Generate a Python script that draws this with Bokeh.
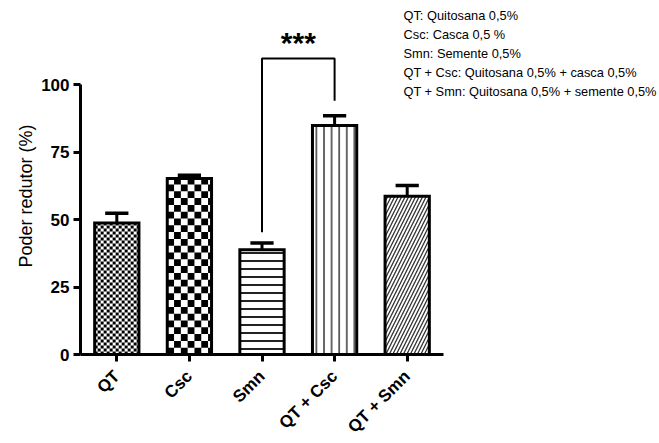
import math
import numpy as np
from bokeh.plotting import figure
from bokeh.models import FixedTicker, Label, ColumnDataSource, Title
from bokeh.core.properties import value
from bokeh.embed import file_html
from bokeh.resources import INLINE

# ---- data ----
categories = ["QT", "Csc", "Smn", "QT + Csc", "QT + Smn"]
means = [48.7, 65.2, 38.8, 84.8, 58.6]
upper = [52.3, 66.4, 41.3, 88.4, 62.6]          # mean + SD
y_ticks = [0, 25, 50, 75, 100]
legend_lines = [
    "QT: Quitosana 0,5%",
    "Csc: Casca 0,5 %",
    "Smn: Semente 0,5%",
    "QT + Csc: Quitosana 0,5% + casca 0,5%",
    "QT + Smn:  Quitosana 0,5% + semente 0,5%",
]
y_title = "Poder redutor (%)"
sig_groups = (2, 3)      # Smn vs QT + Csc
sig_text = "***"

# ---- layout ----
LEFT = 80
FW, FH = 579, 354
PX_X = 72.6
PX_Y = 2.7
x_end = FW / PX_X
y_end = FH / PX_Y
FONT = "Liberation Sans"
BW = 0.61

p = figure(frame_width=FW, frame_height=FH, output_backend="svg", toolbar_location=None,
           x_range=(0, x_end), y_range=(0, y_end),
           min_border_left=LEFT, min_border_bottom=89,
           min_border_top=0, min_border_right=0)
p.outline_line_color = None
p.grid.visible = False
p.background_fill_color = "white"

xs = [i + 0.5 for i in range(len(categories))]
hatches = [" ", " ", "-", "|", "/"]
hscale = [8, 8, 8, 7.6, 7.0]
hweight = [1, 1, 2, 1.6, 1.3]
hcolor = ["black", "black", "#222222", "#444444", "#333333"]
src = ColumnDataSource(dict(x=xs, top=means, up=upper, hp=hatches, hs=hscale,
                            hw=hweight, hc=hcolor))
p.vbar(x="x", top="top", width=BW, source=src, fill_color="white",
       line_color=None, hatch_pattern="hp", hatch_scale="hs",
       hatch_weight="hw", hatch_color="hc")

# checker textures for QT (fine) and Csc (coarse)
def checker(ix, cell_px):
    left = xs[ix] - BW / 2
    right = xs[ix] + BW / 2
    top = means[ix]
    dx = cell_px / PX_X
    dy = cell_px / PX_Y
    L, R, B, T = [], [], [], []
    ncol = int(math.ceil((right - left) / dx))
    nrow = int(math.ceil(top / dy))
    for i in range(ncol):
        for j in range(nrow):
            if (i + j) % 2 == 0:
                l = left + i * dx
                b = j * dy
                L.append(l); R.append(min(l + dx, right))
                B.append(b); T.append(min(b + dy, top))
    p.quad(left=L, right=R, bottom=B, top=T, fill_color="black", line_color=None)

checker(0, 3.0)
checker(1, 6.8)

# outlines
p.vbar(x="x", top="top", width=BW, source=src, fill_color=None,
       line_color="black", line_width=3, line_join="miter")

# error bars (upper only)
p.segment(x0="x", y0="top", x1="x", y1="up", source=src, line_color="black", line_width=3)
cap = 0.16
p.segment(x0=[x - cap for x in xs], y0=upper, x1=[x + cap for x in xs], y1=upper,
          line_color="black", line_width=3.5)

# significance bracket
a, b = sig_groups
top_b = 109.6
p.line(x=[xs[a], xs[a], xs[b], xs[b]], y=[upper[a] + 4, top_b, top_b, upper[b] + 5.6],
       line_color="black", line_width=2)
p.add_layout(Label(x=(xs[a] + xs[b]) / 2, y=top_b + 5.8, text=sig_text,
                   text_font=FONT, text_font_style="bold", text_font_size="30px",
                   text_color="black", text_align="center", text_baseline="middle"))

# legend text
for k, line in enumerate(legend_lines):
    p.add_layout(Label(x=(403 - 80) / PX_X, y=(354 - 15 - 19 * k) / PX_Y, text=line,
                       text_font=FONT, text_font_size="12.8px", text_color="black",
                       text_baseline="middle", text_align="left"))

# y-axis title, placed along the 0-100 axis
p.add_layout(Title(text=y_title, align="left", offset=87, standoff=6,
                   text_font=FONT, text_font_size="18px", text_font_style="normal",
                   text_color="black"), "left")

# axes
p.yaxis.bounds = (0, 100)
p.yaxis.ticker = FixedTicker(ticks=y_ticks)
p.yaxis.minor_tick_line_color = None

p.xaxis.bounds = (0, len(categories))
p.xaxis.ticker = FixedTicker(ticks=xs)
p.xaxis.major_label_overrides = {x: c for x, c in zip(xs, categories)}
p.xaxis.major_label_orientation = math.pi / 4
p.xaxis.minor_tick_line_color = None

for ax in (p.xaxis[0], p.yaxis[0]):
    ax.axis_line_width = 3
    ax.major_tick_line_width = 3
    ax.major_tick_out = 7
    ax.major_tick_in = 0
    ax.major_label_text_font = FONT
    ax.major_label_text_font_style = "bold"
    ax.major_label_text_font_size = "17px"
    ax.major_label_text_color = "black"
    ax.axis_line_color = "black"
    ax.major_tick_line_color = "black"
    ax.major_label_standoff = 4
p.xaxis.major_label_standoff = 12

open("out.html", "w").write(file_html(p, INLINE))
